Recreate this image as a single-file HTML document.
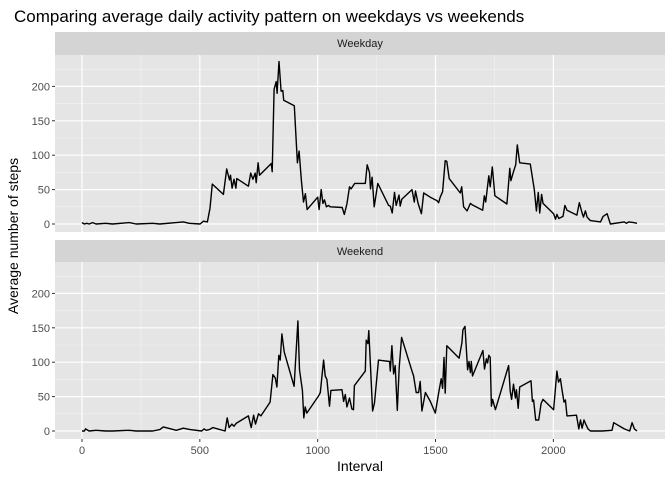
<!DOCTYPE html>
<html><head><meta charset="utf-8"><style>
body{margin:0;background:#fff;}
svg{display:block;font-family:"Liberation Sans",Arial,sans-serif;}
</style></head><body>
<svg id="c" width="672" height="480"></svg>
<script>
const weekdayIntervals=[0,10,20,30,45,60,100,130,200,230,300,330,400,430,455,501,515,532,543,553,600,614,626,630,637,645,653,657,706,716,725,735,739,747,753,803,807,815,824,828,836,845,852,856,901,914,921,931,940,948,955,1000,1006,1015,1022,1029,1037,1046,1053,1104,1113,1124,1135,1142,1157,1202,1210,1220,1224,1231,1240,1255,1301,1308,1316,1326,1333,1345,1350,1357,1400,1410,1415,1426,1440,1450,1478,1506,1513,1520,1530,1541,1548,1558,1605,1611,1619,1634,1648,1655,1700,1707,1713,1726,1732,1741,1752,1803,1815,1820,1831,1840,1847,1857,1902,1919,1928,1936,1942,1950,1956,2001,2009,2015,2023,2041,2049,2058,2100,2110,2122,2128,2136,2143,2157,2200,2211,2228,2242,2301,2310,2320,2341,2355];
const weekdayValues=[2,0,1,0,2,0,1,0,2,0,1,0,2,3,1,0,4,3,23,58,43,80,64,71,52,65,52,66,55,74,65,74,60,89,71,88,76,196,207,190,236,193,194,180,172,89,106,63,32,44,21,39,21,50,30,35,25,27,25,24,14,29,54,51,59,59,86,75,51,68,25,59,27,26,16,46,27,42,26,36,50,32,48,30,15,45,39,34,31,39,47,92,91,66,45,54,25,19,30,28,20,41,32,70,54,83,41,29,81,63,76,86,115,89,87,50,19,46,16,43,30,15,7,14,8,11,27,20,13,31,16,10,19,10,5,3,11,15,0,3,1,3,2,1];
const weekendIntervals=[0,10,15,30,60,100,130,200,230,300,330,345,400,430,459,508,518,527,540,555,607,616,624,636,645,654,706,718,728,736,749,759,798,810,820,827,835,841,848,858,900,916,923,935,941,947,954,1004,1011,1025,1032,1039,1050,1056,1103,1110,1117,1124,1135,1145,1152,1156,1202,1206,1213,1217,1233,1241,1258,1305,1308,1315,1322,1329,1338,1346,1356,1400,1407,1418,1428,1435,1442,1457,1478,1499,1513,1524,1530,1536,1541,1548,1600,1612,1616,1625,1636,1642,1648,1652,1657,1701,1708,1716,1721,1726,1732,1737,1742,1754,1810,1817,1823,1831,1839,1843,1851,1857,1905,1911,1916,1925,1938,1948,1956,2001,2007,2015,2022,2030,2037,2045,2051,2058,2098,2108,2115,2122,2130,2136,2147,2157,2207,2249,2256,2301,2324,2334,2344,2355];
const weekendValues=[0,0,3,0,1,0,0,1,0,0,2,6,1,4,2,0,3,1,2,5,0,19,5,10,7,11,22,5,23,10,25,22,42,82,77,64,110,103,141,115,65,160,89,59,19,35,26,51,56,103,80,75,36,59,60,43,53,35,48,32,31,66,87,132,127,146,29,41,103,101,87,124,83,95,30,92,136,87,80,56,56,72,29,56,43,26,55,76,62,107,55,124,106,128,147,152,89,101,85,101,80,117,90,105,99,110,107,36,46,31,95,58,46,68,48,60,33,64,73,43,45,16,16,40,46,31,54,87,71,76,59,42,45,22,23,3,16,4,16,11,3,0,0,1,12,3,0,12,3,0];
const xTicks=[0,500,1000,1500,2000];
const yTicks=[0,50,100,150,200];
const panels=[{name:'Weekday',ints:weekdayIntervals,vals:weekdayValues,sTop:32,top:55,bottom:232},
              {name:'Weekend',ints:weekendIntervals,vals:weekendValues,sTop:240,top:262,bottom:439}];
const L=55,R=665;
const sx=v=>82+v*0.23568;
const NS='http://www.w3.org/2000/svg';
const svg=document.getElementById('c');
function mk(t,a,p){const e=document.createElementNS(NS,t);for(const k in a)e.setAttribute(k,a[k]);(p||svg).appendChild(e);return e;}
const title=mk('text',{x:14,y:22,'font-size':17,fill:'#000'});title.textContent='Comparing average daily activity pattern on weekdays vs weekends';


panels.forEach((p,pi)=>{
  const zero=p.bottom-8;
  const sy=v=>zero-v*0.688;
  const g=mk('g',{});
  
  
  const strip=mk('rect',{x:L,y:p.sTop,width:R-L,height:p.top-p.sTop,fill:'#d4d4d4'},g);
  
  
  const st=mk('text',{x:(L+R)/2,y:p.sTop+15,'font-size':11,fill:'#1a1a1a','text-anchor':'middle'},g);st.textContent=p.name;
  
  
  mk('rect',{x:L,y:p.top,width:R-L,height:p.bottom-p.top,fill:'#e5e5e5'},g);
  for(let i=0;i<yTicks.length-1;i++){const y=sy((yTicks[i]+yTicks[i+1])/2);mk('line',{x1:L,x2:R,y1:y,y2:y,stroke:'#f2f2f2','stroke-width':0.6},g);}
  {const y=sy(225);mk('line',{x1:L,x2:R,y1:y,y2:y,stroke:'#f2f2f2','stroke-width':0.6},g);}
  for(let i=0;i<xTicks.length-1;i++){const x=sx((xTicks[i]+xTicks[i+1])/2);mk('line',{x1:x,x2:x,y1:p.top,y2:p.bottom,stroke:'#f2f2f2','stroke-width':0.6},g);}
  yTicks.forEach(t=>{const y=sy(t);mk('line',{x1:L,x2:R,y1:y,y2:y,stroke:'#fff','stroke-width':1.2},g);
    mk('line',{x1:L-3,x2:L,y1:y,y2:y,stroke:'#333','stroke-width':1},g);
    const tx=mk('text',{x:L-5,y:y+4,'font-size':11,fill:'#4d4d4d','text-anchor':'end'},g);tx.textContent=t;
    
    });
  xTicks.forEach(t=>{const x=sx(t);mk('line',{x1:x,x2:x,y1:p.top,y2:p.bottom,stroke:'#fff','stroke-width':1.2},g);
    if(pi==1){mk('line',{x1:x,x2:x,y1:p.bottom,y2:p.bottom+3,stroke:'#333','stroke-width':1},g);
      const tx=mk('text',{x:x,y:p.bottom+15,'font-size':11,fill:'#4d4d4d','text-anchor':'middle'},g);tx.textContent=t;
      
      }});
  const d=p.ints.map((v,i)=>(i?'L':'M')+sx(v).toFixed(1)+','+sy(p.vals[i]).toFixed(1)).join('');
  const line=mk('path',{d:d,fill:'none',stroke:'#000','stroke-width':1.4,'stroke-linejoin':'round'},g);
  
  
});
const xt=mk('text',{x:360,y:471,'font-size':14,fill:'#000','text-anchor':'middle'});xt.textContent='Interval';


const yt=mk('text',{x:0,y:0,'font-size':14,fill:'#000','text-anchor':'middle',transform:'translate(18,236) rotate(-90)'});yt.textContent='Average number of steps';


</script>
</body></html>
